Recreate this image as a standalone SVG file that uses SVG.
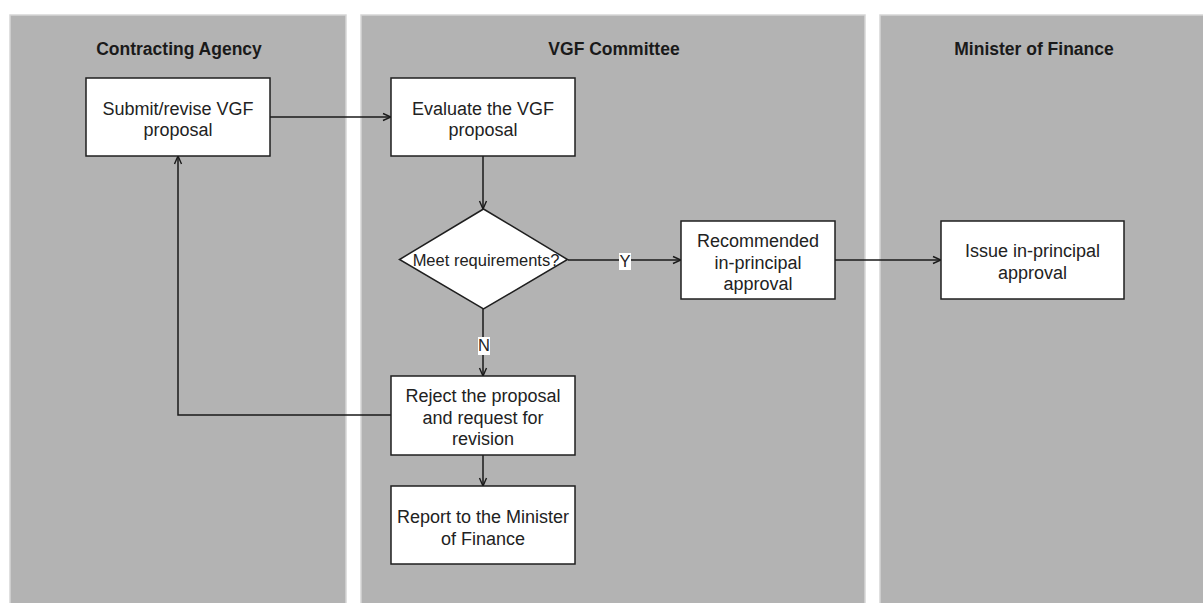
<svg xmlns="http://www.w3.org/2000/svg" width="1203" height="603" viewBox="0 0 1203 603">
  <style>
    .lane { fill: #b3b3b3; stroke: #d6d6d6; stroke-width: 1.5; }
    .lane-title { font-family: "Liberation Sans", Arial, sans-serif; font-size: 17.5px; font-weight: bold; fill: #1a1a1a; text-anchor: middle; }
    .box { fill: #ffffff; stroke: #1f1f1f; stroke-width: 1.5; }
    .label { font-family: "Liberation Sans", Arial, sans-serif; font-size: 18px; fill: #222222; text-anchor: middle; }
    .small { font-size: 16.5px; }
    .edge { fill: none; stroke: #1a1a1a; stroke-width: 1.5; }
    .tag-bg { fill: #ffffff; }
  </style>
  <defs>
    <marker id="arrow" viewBox="0 0 10 10" refX="9" refY="5" markerWidth="10" markerHeight="10" markerUnits="userSpaceOnUse" orient="auto">
      <path d="M1,1.5 L9,5 L1,8.5" fill="none" stroke="#1a1a1a" stroke-width="1.4"/>
    </marker>
  </defs>

  <rect width="1203" height="603" fill="#ffffff"/>

  <!-- swimlanes -->
  <g id="lane-agency">
    <rect class="lane" x="10" y="15" width="336" height="600"/>
    <text class="lane-title" x="179" y="55">Contracting Agency</text>
  </g>
  <g id="lane-committee">
    <rect class="lane" x="361" y="15" width="504" height="600"/>
    <text class="lane-title" x="614" y="55">VGF Committee</text>
  </g>
  <g id="lane-minister">
    <rect class="lane" x="880" y="15" width="340" height="600"/>
    <text class="lane-title" x="1034" y="55">Minister of Finance</text>
  </g>

  <!-- connectors -->
  <g id="connectors">
    <path class="edge" d="M270,117 L391,117" marker-end="url(#arrow)"/>
    <path class="edge" d="M483,156 L483,209" marker-end="url(#arrow)"/>
    <path class="edge" d="M568,260 L681,260" marker-end="url(#arrow)"/>
    <path class="edge" d="M835,260 L941,260" marker-end="url(#arrow)"/>
    <path class="edge" d="M483,309 L483,376" marker-end="url(#arrow)"/>
    <path class="edge" d="M483,455 L483,486" marker-end="url(#arrow)"/>
    <path class="edge" d="M391,415 L178,415 L178,156" marker-end="url(#arrow)"/>
    <rect class="tag-bg" x="619" y="253" width="12" height="17"/>
    <text class="label small" x="625" y="267">Y</text>
    <rect class="tag-bg" x="478" y="337" width="12" height="18"/>
    <text class="label small" x="484" y="351">N</text>
  </g>

  <!-- nodes -->
  <g id="submit">
    <rect class="box" x="86" y="78" width="184" height="78"/>
    <text class="label" x="178" y="115">Submit/revise VGF</text>
    <text class="label" x="178" y="136">proposal</text>
  </g>
  <g id="evaluate">
    <rect class="box" x="391" y="78" width="184" height="78"/>
    <text class="label" x="483" y="115">Evaluate the VGF</text>
    <text class="label" x="483" y="136">proposal</text>
  </g>
  <g id="decision">
    <polygon class="box" points="483.5,209 567.5,259.5 483.5,309 399.5,259.5"/>
    <text class="label small" x="486" y="266">Meet requirements?</text>
  </g>
  <g id="recommend">
    <rect class="box" x="681" y="221" width="154" height="78"/>
    <text class="label" x="758" y="247">Recommended</text>
    <text class="label" x="758" y="268.5">in-principal</text>
    <text class="label" x="758" y="290">approval</text>
  </g>
  <g id="issue">
    <rect class="box" x="941" y="221" width="183" height="78"/>
    <text class="label" x="1032.5" y="257">Issue in-principal</text>
    <text class="label" x="1032.5" y="279">approval</text>
  </g>
  <g id="reject">
    <rect class="box" x="391" y="376" width="184" height="79"/>
    <text class="label" x="483" y="402">Reject the proposal</text>
    <text class="label" x="483" y="423.5">and request for</text>
    <text class="label" x="483" y="445">revision</text>
  </g>
  <g id="report">
    <rect class="box" x="391" y="486" width="184" height="78"/>
    <text class="label" x="483" y="523">Report to the Minister</text>
    <text class="label" x="483" y="544.5">of Finance</text>
  </g>
</svg>
